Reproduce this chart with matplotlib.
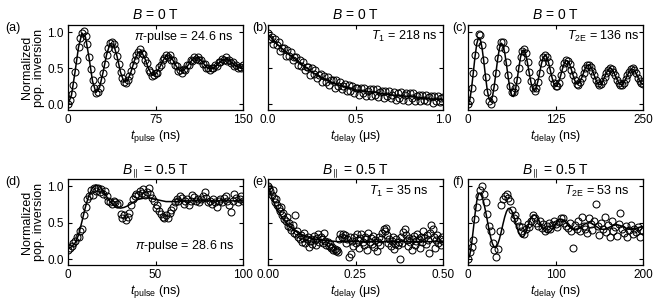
import numpy as np
import matplotlib
matplotlib.use("Agg")
import matplotlib.pyplot as plt

plt.rcParams['font.family'] = ['Liberation Sans', 'DejaVu Sans']
plt.rcParams['mathtext.fontset'] = 'custom'
plt.rcParams['mathtext.rm'] = 'Liberation Sans'
plt.rcParams['mathtext.it'] = 'Liberation Sans:italic'
plt.rcParams['mathtext.bf'] = 'Liberation Sans:bold'
plt.rcParams['axes.linewidth'] = 0.9

# ---- (a) Rabi, B = 0 T ----
a_t = np.linspace(0, 150, 101)
a_y = [0.01, 0.06, 0.14, 0.27, 0.45, 0.62, 0.80, 0.92, 0.99, 1.01,
       0.95, 0.83, 0.66, 0.49, 0.33, 0.22, 0.16, 0.17, 0.23, 0.33,
       0.44, 0.56, 0.68, 0.78, 0.85, 0.87, 0.84, 0.76, 0.67, 0.56,
       0.45, 0.36, 0.31, 0.30, 0.33, 0.39, 0.46, 0.54, 0.61, 0.68,
       0.72, 0.76, 0.71, 0.70, 0.61, 0.57, 0.48, 0.45, 0.39, 0.41,
       0.43, 0.44, 0.52, 0.54, 0.62, 0.64, 0.69, 0.66, 0.68, 0.62,
       0.62, 0.54, 0.53, 0.46, 0.47, 0.44, 0.49, 0.48, 0.54, 0.55,
       0.61, 0.60, 0.66, 0.63, 0.66, 0.61, 0.62, 0.56, 0.56, 0.50,
       0.51, 0.47, 0.50, 0.50, 0.54, 0.53, 0.59, 0.58, 0.63, 0.61,
       0.65, 0.60, 0.62, 0.57, 0.58, 0.53, 0.54, 0.50, 0.52, 0.51,
       0.54]
a_fit_t = np.linspace(0, 150, 51)
a_fit = [0.0, 0.128, 0.445, 0.791, 0.988, 0.932, 0.649, 0.322, 0.161, 0.231,
         0.439, 0.683, 0.841, 0.834, 0.667, 0.445, 0.308, 0.329, 0.451, 0.609,
         0.721, 0.729, 0.632, 0.495, 0.406, 0.417, 0.494, 0.596, 0.668, 0.673,
         0.610, 0.521, 0.464, 0.471, 0.521, 0.589, 0.639, 0.647, 0.610, 0.549,
         0.501, 0.492, 0.520, 0.568, 0.612, 0.630, 0.612, 0.570, 0.528, 0.510,
         0.520]

# ---- (b) T1, B = 0 T ----
b_t = np.linspace(0, 1.0, 101)
b_y = [0.99, 0.91, 0.94, 0.84, 0.90, 0.82, 0.87, 0.74, 0.78, 0.78,
       0.67, 0.75, 0.67, 0.72, 0.61, 0.65, 0.66, 0.54, 0.62, 0.53,
       0.59, 0.47, 0.52, 0.52, 0.41, 0.50, 0.42, 0.47, 0.36, 0.40,
       0.42, 0.31, 0.39, 0.31, 0.38, 0.27, 0.33, 0.34, 0.23, 0.33,
       0.25, 0.31, 0.21, 0.26, 0.28, 0.18, 0.27, 0.19, 0.26, 0.15,
       0.22, 0.23, 0.13, 0.23, 0.16, 0.23, 0.12, 0.18, 0.21, 0.11,
       0.21, 0.13, 0.21, 0.10, 0.17, 0.19, 0.085, 0.19, 0.115, 0.18,
       0.08, 0.135, 0.165, 0.06, 0.16, 0.09, 0.165, 0.065, 0.13, 0.15,
       0.05, 0.155, 0.085, 0.15, 0.05, 0.11, 0.135, 0.04, 0.13, 0.055,
       0.13, 0.04, 0.095, 0.115, 0.02, 0.12, 0.05, 0.11, 0.03, 0.08,
       0.10]
b_fit_t = np.linspace(0, 1.0, 21)
b_fit = [0.97, 0.84, 0.73, 0.64, 0.54, 0.45, 0.38, 0.32, 0.27, 0.24,
         0.20, 0.18, 0.17, 0.15, 0.13, 0.12, 0.11, 0.10, 0.08, 0.07, 0.07]

# ---- (c) T2E, B = 0 T ----
c_t = np.linspace(0, 250, 101)
c_y = [0.01, 0.06, 0.22, 0.44, 0.68, 0.87, 0.98, 0.96, 0.82, 0.62,
       0.38, 0.17, 0.04, 0.01, 0.07, 0.24, 0.44, 0.64, 0.80, 0.87,
       0.86, 0.76, 0.58, 0.40, 0.25, 0.17, 0.17, 0.22, 0.34, 0.50,
       0.65, 0.74, 0.76, 0.71, 0.59, 0.45, 0.32, 0.22, 0.19, 0.22,
       0.31, 0.44, 0.57, 0.66, 0.68, 0.66, 0.58, 0.48, 0.37, 0.29,
       0.25, 0.25, 0.30, 0.40, 0.50, 0.57, 0.61, 0.60, 0.56, 0.48,
       0.40, 0.33, 0.28, 0.27, 0.31, 0.37, 0.44, 0.50, 0.54, 0.55,
       0.52, 0.46, 0.40, 0.33, 0.29, 0.27, 0.28, 0.32, 0.38, 0.44,
       0.48, 0.50, 0.49, 0.45, 0.40, 0.34, 0.30, 0.27, 0.27, 0.30,
       0.35, 0.40, 0.45, 0.49, 0.50, 0.48, 0.43, 0.37, 0.32, 0.29,
       0.28]
c_fit_t = np.linspace(0, 250, 101)
c_fit = [0.0, 0.057, 0.214, 0.432, 0.658, 0.838, 0.925, 0.903, 0.786, 0.600,
         0.386, 0.197, 0.073, 0.042, 0.108, 0.254, 0.445, 0.636, 0.782, 0.848,
         0.821, 0.713, 0.548, 0.366, 0.210, 0.116, 0.107, 0.185, 0.328, 0.499,
         0.651, 0.744, 0.754, 0.691, 0.574, 0.432, 0.301, 0.213, 0.191, 0.234,
         0.327, 0.447, 0.565, 0.649, 0.680, 0.653, 0.579, 0.476, 0.370, 0.289,
         0.251, 0.265, 0.320, 0.403, 0.493, 0.567, 0.606, 0.602, 0.559, 0.486,
         0.404, 0.331, 0.288, 0.283, 0.313, 0.368, 0.435, 0.498, 0.539, 0.549,
         0.526, 0.476, 0.410, 0.344, 0.294, 0.271, 0.280, 0.317, 0.373, 0.432,
         0.478, 0.499, 0.491, 0.458, 0.407, 0.352, 0.304, 0.275, 0.272, 0.297,
         0.342, 0.397, 0.447, 0.481, 0.489, 0.471, 0.431, 0.380, 0.329, 0.293,
         0.280]

# ---- (d) Rabi, B_par = 0.5 T ----
d_t = np.linspace(0, 100, 101)
d_y = [0.13, 0.16, 0.18, 0.22, 0.25, 0.30, 0.31, 0.38, 0.41, 0.60,
       0.71, 0.82, 0.86, 0.95, 0.88, 0.97, 0.93, 0.98, 0.92, 0.96,
       0.90, 0.93, 0.86, 0.80, 0.78, 0.76, 0.80, 0.78, 0.76, 0.77,
       0.62, 0.56, 0.60, 0.54, 0.58, 0.63, 0.74, 0.82, 0.86, 0.90,
       0.88, 0.94, 0.91, 0.96, 0.88, 0.92, 0.98, 0.90, 0.84, 0.80,
       0.70, 0.74, 0.66, 0.62, 0.58, 0.56, 0.60, 0.57, 0.64, 0.68,
       0.72, 0.78, 0.82, 0.80, 0.86, 0.84, 0.76, 0.80, 0.83, 0.74,
       0.80, 0.88, 0.85, 0.80, 0.83, 0.78, 0.82, 0.86, 0.92, 0.84,
       0.78, 0.80, 0.76, 0.82, 0.78, 0.72, 0.80, 0.82, 0.78, 0.84,
       0.86, 0.80, 0.74, 0.65, 0.80, 0.90, 0.84, 0.78, 0.82, 0.86,
       0.80]
d_fit_t = np.linspace(0, 100, 51)
d_fit = [0.14, 0.17, 0.22, 0.33, 0.52, 0.72, 0.88, 0.98, 1.02, 1.00,
         0.94, 0.86, 0.79, 0.74, 0.71, 0.70, 0.71, 0.73, 0.76, 0.79,
         0.82, 0.83, 0.84, 0.84, 0.83, 0.82, 0.81, 0.80, 0.79, 0.79,
         0.79, 0.79, 0.80, 0.80, 0.80, 0.80, 0.80, 0.80, 0.80, 0.80,
         0.80, 0.80, 0.80, 0.80, 0.80, 0.80, 0.80, 0.80, 0.80, 0.80,
         0.80]

# ---- (e) T1, B_par = 0.5 T ----
e_t = np.linspace(0, 0.5, 151)
e_y = [1.00, 0.97, 0.93, 0.88, 0.95, 0.84, 0.78, 0.82, 0.74, 0.70,
       0.66, 0.72, 0.60, 0.64, 0.55, 0.52, 0.58, 0.46, 0.50, 0.44,
       0.40, 0.47, 0.36, 0.60, 0.34, 0.38, 0.30, 0.27, 0.33, 0.24,
       0.29, 0.36, 0.22, 0.27, 0.31, 0.17, 0.25, 0.28, 0.21, 0.32,
       0.26, 0.19, 0.29, 0.34, 0.24, 0.30, 0.27, 0.22, 0.36, 0.25,
       0.20, 0.23, 0.18, 0.21, 0.15, 0.17, 0.13, 0.14, 0.11, 0.12,
       0.10, 0.28, 0.35, 0.31, 0.34, 0.29, 0.33, 0.22, 0.27, 0.03,
       0.31, 0.07, 0.25, 0.18, 0.30, 0.22, 0.34, 0.26, 0.16, 0.29,
       0.35, 0.24, 0.19, 0.31, 0.27, 0.13, 0.36, 0.24, 0.29, 0.21,
       0.32, 0.17, 0.26, 0.11, 0.23, 0.30, 0.19, 0.27, 0.36, 0.41,
       0.38, 0.43, 0.33, 0.22, 0.28, 0.18, 0.25, 0.31, 0.14, 0.21,
       0.27, 0.19, 0.24, 0.00, 0.30, 0.22, 0.37, 0.41, 0.33, 0.26,
       0.18, 0.29, 0.23, 0.12, 0.27, 0.32, 0.20, 0.25, 0.35, 0.28,
       0.16, 0.31, 0.24, 0.38, 0.29, 0.21, 0.33, 0.26, 0.09, 0.36,
       0.47, 0.42, 0.30, 0.15, 0.26, 0.33, 0.22, 0.28, 0.20, 0.31,
       0.25]
e_fit_t = np.linspace(0, 0.5, 51)
e_fit = [1.00, 0.86, 0.74, 0.65, 0.57, 0.51, 0.46, 0.41, 0.38, 0.35,
         0.33, 0.31, 0.295, 0.28, 0.27, 0.265, 0.26, 0.255, 0.25, 0.245,
         0.24, 0.24, 0.24, 0.24, 0.24, 0.24, 0.24, 0.24, 0.24, 0.24,
         0.24, 0.24, 0.24, 0.24, 0.24, 0.24, 0.24, 0.24, 0.24, 0.24,
         0.24, 0.24, 0.24, 0.24, 0.24, 0.24, 0.24, 0.24, 0.24, 0.24,
         0.24]

# ---- (f) T2E, B_par = 0.5 T ----
f_t = np.linspace(0, 200, 101)
f_y = [0.00, 0.10, 0.17, 0.26, 0.55, 0.72, 0.87, 0.95, 1.00, 0.90,
       0.78, 0.62, 0.45, 0.38, 0.22, 0.12, 0.03, 0.14, 0.38, 0.75,
       0.82, 0.87, 0.90, 0.84, 0.80, 0.68, 0.57, 0.60, 0.52, 0.45,
       0.38, 0.44, 0.35, 0.41, 0.48, 0.44, 0.52, 0.60, 0.56, 0.50,
       0.46, 0.52, 0.43, 0.48, 0.39, 0.45, 0.50, 0.42, 0.47, 0.53,
       0.48, 0.44, 0.51, 0.56, 0.57, 0.50, 0.46, 0.43, 0.50, 0.38,
       0.16, 0.47, 0.41, 0.52, 0.38, 0.58, 0.45, 0.41, 0.36, 0.56,
       0.48, 0.40, 0.52, 0.76, 0.46, 0.33, 0.50, 0.42, 0.58, 0.37,
       0.47, 0.30, 0.53, 0.39, 0.44, 0.32, 0.48, 0.63, 0.41, 0.36,
       0.45, 0.30, 0.40, 0.47, 0.34, 0.42, 0.37, 0.44, 0.31, 0.40,
       0.38]
f_fit_t = np.linspace(0, 200, 101)
f_fit = [0.0, 0.052, 0.197, 0.400, 0.616, 0.796, 0.897, 0.904, 0.860, 0.776,
         0.663, 0.535, 0.407, 0.294, 0.210, 0.166, 0.165, 0.206, 0.280, 0.377,
         0.483, 0.580, 0.654, 0.695, 0.696, 0.662, 0.600, 0.521, 0.438, 0.366,
         0.317, 0.300, 0.318, 0.367, 0.436, 0.510, 0.571, 0.605, 0.608, 0.589,
         0.555, 0.509, 0.461, 0.415, 0.381, 0.362, 0.362, 0.378, 0.408, 0.445,
         0.484, 0.519, 0.542, 0.550, 0.544, 0.528, 0.504, 0.475, 0.446, 0.422,
         0.406, 0.400, 0.404, 0.415, 0.431, 0.450, 0.469, 0.485, 0.496, 0.500,
         0.497, 0.487, 0.472, 0.455, 0.438, 0.423, 0.413, 0.410, 0.412, 0.419,
         0.429, 0.440, 0.451, 0.461, 0.468, 0.470, 0.468, 0.461, 0.451, 0.440,
         0.429, 0.419, 0.412, 0.410, 0.411, 0.416, 0.423, 0.431, 0.438, 0.444,
         0.448]

panels = [
    ('(a)', r'$B$ = 0 T', a_t, a_y, a_fit_t, a_fit, (0, 150), [0, 75, 150], ['0', '75', '150'],
     r'$t_{\mathrm{pulse}}$ (ns)', r'$\pi$-pulse = 24.6 ns', (0.945, 0.86)),
    ('(b)', r'$B$ = 0 T', b_t, b_y, b_fit_t, b_fit, (0, 1.0), [0, 0.5, 1.0], ['0.0', '0.5', '1.0'],
     r'$t_{\mathrm{delay}}$ (μs)', r'$T_1$ = 218 ns', (0.97, 0.86)),
    ('(c)', r'$B$ = 0 T', c_t, c_y, c_fit_t, c_fit, (0, 250), [0, 125, 250], ['0', '125', '250'],
     r'$t_{\mathrm{delay}}$ (ns)', r'$T_{\mathrm{2E}}$ = 136 ns', (0.975, 0.86)),
    ('(d)', r'$B_{\parallel}$ = 0.5 T', d_t, d_y, d_fit_t, d_fit, (0, 100), [0, 50, 100], ['0', '50', '100'],
     r'$t_{\mathrm{pulse}}$ (ns)', r'$\pi$-pulse = 28.6 ns', (0.95, 0.22)),
    ('(e)', r'$B_{\parallel}$ = 0.5 T', e_t, e_y, e_fit_t, e_fit, (0, 0.5), [0, 0.25, 0.5], ['0.00', '0.25', '0.50'],
     r'$t_{\mathrm{delay}}$ (μs)', r'$T_1$ = 35 ns', (0.915, 0.86)),
    ('(f)', r'$B_{\parallel}$ = 0.5 T', f_t, f_y, f_fit_t, f_fit, (0, 200), [0, 100, 200], ['0', '100', '200'],
     r'$t_{\mathrm{delay}}$ (ns)', r'$T_{\mathrm{2E}}$ = 53 ns', (0.92, 0.86)),
]

W, H = 664, 307
fig = plt.figure(figsize=(W / 100, H / 100), dpi=100)

lefts = [68, 268, 468]
rows = [(25, 110), (179, 265)]

for i, (lab, title, xt, yv, ft, fv, xlim, xticks, xtl, xlabel, note, npos) in enumerate(panels):
    r, c = divmod(i, 3)
    top, bot = rows[r]
    ax = fig.add_axes([lefts[c] / W, 1 - bot / H, 175 / W, (bot - top) / H])
    ax.plot(ft, fv, color='black', lw=1.1, zorder=2)
    ax.plot(xt, yv, 'o', ms=5.0, mfc='none', mec='black', mew=0.75, zorder=3)
    ax.set_xlim(*xlim)
    ax.set_ylim(-0.08, 1.1)
    ax.set_xticks(xticks)
    ax.set_xticklabels(xtl)
    ax.set_yticks([0, 0.5, 1.0])
    ax.tick_params(direction='in', length=3, width=0.8, top=True, right=True,
                   labelsize=8.5, pad=3)
    if c == 0:
        ax.set_yticklabels(['0.0', '0.5', '1.0'])
        ax.set_ylabel('Normalized\npop. inversion', fontsize=9, labelpad=2, linespacing=1.0)
    else:
        ax.set_yticklabels([])
    ax.set_xlabel(xlabel, fontsize=9, labelpad=1)
    ax.set_title(title, fontsize=10, pad=4)
    ax.text(npos[0], npos[1], note, transform=ax.transAxes, ha='right', va='center', fontsize=9)
    fig.text((lefts[c] - 63 if c == 0 else lefts[c] - 16) / W, 1 - (top - 3) / H, lab,
             ha='left', va='top', fontsize=9)

fig.savefig('out.png', dpi=100)
